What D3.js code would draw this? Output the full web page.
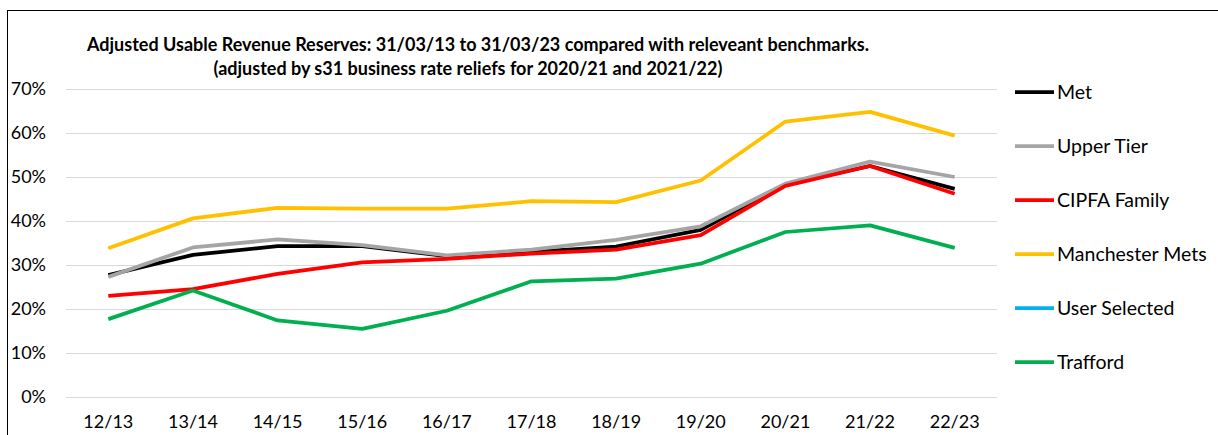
<!DOCTYPE html>
<html>
<head>
<meta charset="utf-8">
<script src="https://cdn.jsdelivr.net/npm/d3@7"></script>
<style>
  body { margin: 0; background: #fff; }
  text { font-family: Lato, "Open Sans", sans-serif; fill: #000; }
</style>
</head>
<body>
<script>
// Categorías (años fiscales)
const years = ["12/13", "13/14", "14/15", "15/16", "16/17", "17/18", "18/19", "19/20", "20/21", "21/22", "22/23"];

// Valores en %
const met = [27.7, 32.3, 34.3, 34.3, 32.0, 33.0, 34.2, 38.0, 48.3, 52.5, 47.3];
const upperTier = [27.3, 34.0, 35.8, 34.5, 32.2, 33.5, 35.7, 38.8, 48.5, 53.5, 50.0];
const cipfa = [23.0, 24.5, 28.0, 30.6, 31.4, 32.6, 33.5, 36.8, 48.0, 52.5, 46.2];
const manchester = [33.8, 40.6, 43.0, 42.8, 42.8, 44.5, 44.3, 49.2, 62.6, 64.8, 59.4];
const userSelected = []; // sin datos
const trafford = [17.7, 24.2, 17.4, 15.5, 19.6, 26.3, 26.9, 30.3, 37.5, 39.0, 33.9];

const yTicks = [0, 10, 20, 30, 40, 50, 60, 70];

const series = [
  { name: "Met", values: met, color: "#000000" },
  { name: "Upper Tier", values: upperTier, color: "#a5a5a5" },
  { name: "CIPFA Family", values: cipfa, color: "#ff0000" },
  { name: "Manchester Mets", values: manchester, color: "#ffc000" },
  { name: "User Selected", values: userSelected, color: "#00b0f0" },
  { name: "Trafford", values: trafford, color: "#00b050" },
];

const width = 1218;
const height = 435;
const margin = { top: 89, right: 221, bottom: 38, left: 66 };

const svg = d3.select("body").append("svg").attr("width", width).attr("height", height);

// Borde del gráfico
svg
  .append("rect")
  .attr("x", 7.5)
  .attr("y", 10.5)
  .attr("width", width)
  .attr("height", height)
  .attr("fill", "none")
  .attr("stroke", "#000")
  .attr("stroke-width", 1);

// Título
const title = svg.append("text").attr("text-anchor", "middle").style("font-weight", "bold").style("font-size", "18px");
title.append("tspan").attr("x", 478).attr("y", 51).text("Adjusted Usable Revenue Reserves: 31/03/13 to 31/03/23 compared with releveant benchmarks.");
title.append("tspan").attr("x", 468).attr("y", 75).text("(adjusted by s31 business rate reliefs for 2020/21 and 2021/22)");

const x = d3
  .scaleBand()
  .domain(years)
  .range([margin.left, width - margin.right]);

const y = d3
  .scaleLinear()
  .domain([0, 70])
  .range([height - margin.bottom, margin.top]);

// Líneas de cuadrícula
svg
  .append("g")
  .selectAll("line")
  .data(yTicks)
  .enter()
  .append("line")
  .attr("x1", margin.left)
  .attr("x2", width - margin.right)
  .attr("y1", (d) => Math.round(y(d)) + 0.5)
  .attr("y2", (d) => Math.round(y(d)) + 0.5)
  .attr("stroke", "#d9d9d9")
  .attr("stroke-width", 1);

// Eje Y
const yAxis = d3
  .axisLeft(y)
  .tickValues(yTicks)
  .tickFormat((d) => d + "%")
  .tickSize(0)
  .tickPadding(20);

svg
  .append("g")
  .attr("transform", "translate(" + margin.left + ",0)")
  .call(yAxis)
  .call((g) => g.select(".domain").remove())
  .selectAll("text")
  .style("font-size", "18px")
  .style("font-family", "Lato, sans-serif");

// Eje X
const xAxis = d3.axisBottom(x).tickSize(0).tickPadding(18);

svg
  .append("g")
  .attr("transform", "translate(0," + y(0) + ")")
  .call(xAxis)
  .call((g) => g.select(".domain").remove())
  .selectAll("text")
  .style("font-size", "18px")
  .style("font-family", "Lato, sans-serif");

// Líneas
const line = d3
  .line()
  .x((d, i) => x(years[i]) + x.bandwidth() / 2)
  .y((d) => y(d));

svg
  .append("g")
  .selectAll("path")
  .data(series.filter((s) => s.values.length))
  .enter()
  .append("path")
  .attr("d", (d) => line(d.values))
  .attr("fill", "none")
  .attr("stroke", (d) => d.color)
  .attr("stroke-width", 3.75)
  .attr("stroke-linejoin", "round");

// Leyenda
const legend = svg
  .append("g")
  .selectAll("g")
  .data(series)
  .enter()
  .append("g")
  .attr("transform", (_, i) => "translate(1015," + (92 + i * 54) + ")");

legend
  .append("line")
  .attr("x1", 0)
  .attr("x2", 39)
  .attr("stroke", (d) => d.color)
  .attr("stroke-width", 3.75);

legend
  .append("text")
  .attr("x", 42)
  .attr("dy", "0.35em")
  .style("font-size", "19.5px")
  .text((d) => d.name);
</script>
</body>
</html>
